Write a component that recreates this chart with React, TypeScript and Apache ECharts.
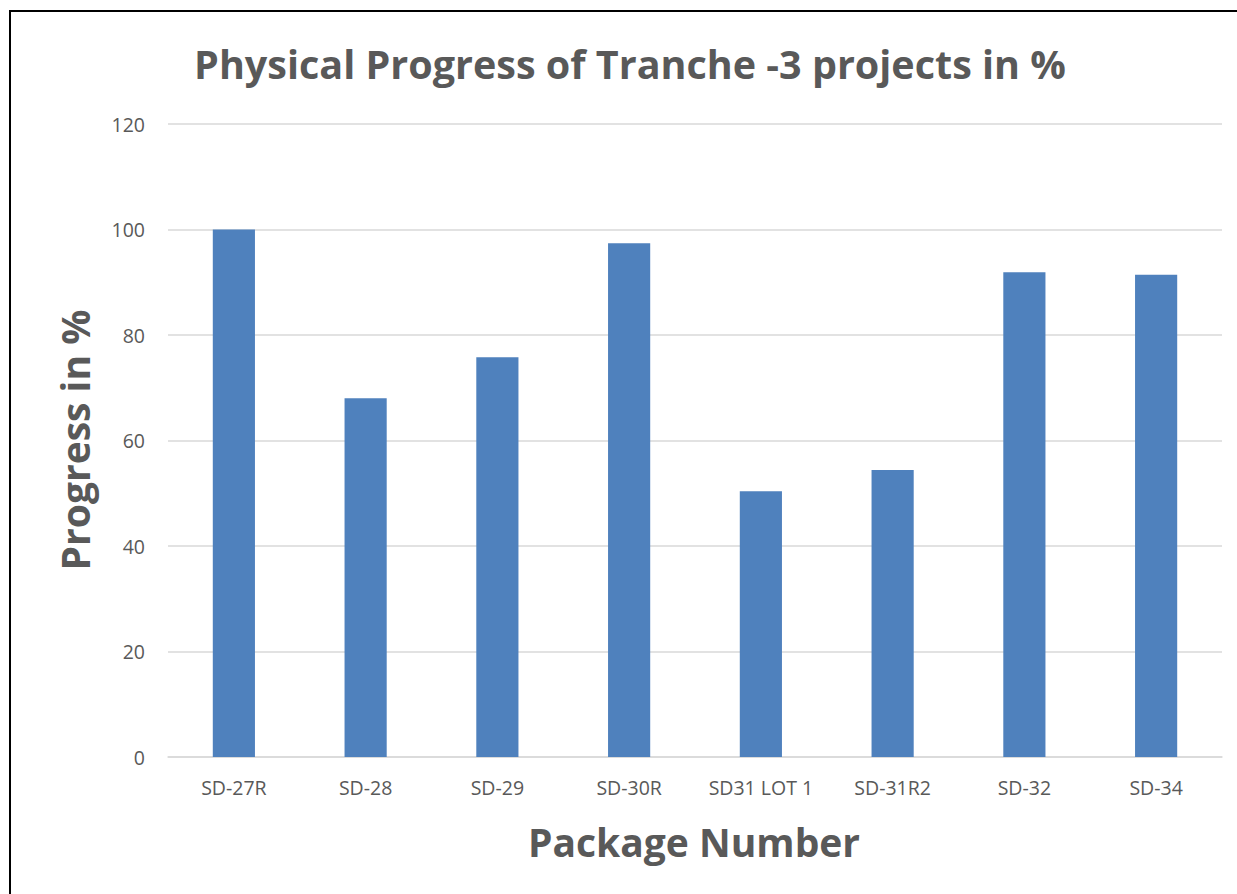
import React, { useEffect, useRef } from "react";
import * as echarts from "echarts";

const categories = ["SD-27R", "SD-28", "SD-29", "SD-30R", "SD31 LOT 1", "SD-31R2", "SD-32", "SD-34"];
const progress = [100, 68, 75.8, 97.4, 50.4, 54.4, 91.9, 91.4];
const yTicks = { min: 0, max: 120, interval: 20 };
const titleText = "Physical Progress of Tranche -3 projects in %";
const xName = "Package Number";
const yName = "Progress in %";

const FONT = "'Open Sans', 'Noto Sans', sans-serif";
const GREY = "#595959";

export default function App() {
  const ref = useRef<HTMLDivElement>(null);
  useEffect(() => {
    if (!ref.current) return;
    const chart = echarts.init(ref.current, undefined, { renderer: "svg" });
    chart.setOption({
      animation: false,
      backgroundColor: "#ffffff",
      grid: { left: 168, right: 15, top: 124, bottom: 137, containLabel: false },
      xAxis: {
        type: "category",
        data: categories,
        axisLine: { lineStyle: { color: "#d9d9d9", width: 1.5 } },
        axisTick: { show: false },
        axisLabel: { color: GREY, fontSize: 19.5, fontFamily: FONT, margin: 20, interval: 0 },
      },
      yAxis: {
        type: "value",
        min: yTicks.min,
        max: yTicks.max,
        interval: yTicks.interval,
        axisLine: { show: false },
        axisTick: { show: false },
        splitLine: { lineStyle: { color: "#d9d9d9", width: 1.5 } },
        axisLabel: { color: GREY, fontSize: 19.5, fontFamily: FONT, margin: 23 },
      },
      series: [
        {
          type: "bar",
          data: progress,
          barWidth: "32%",
          itemStyle: { color: "#4f81bd" },
        },
      ],
      graphic: [
        { type: "line", shape: { x1: 10, y1: 11, x2: 10, y2: 894 }, style: { stroke: "#000", lineWidth: 2 } },
        { type: "line", shape: { x1: 9, y1: 11, x2: 1237, y2: 11 }, style: { stroke: "#000", lineWidth: 2 } },
        {
          type: "text",
          x: 630,
          y: 64,
          style: {
            text: titleText,
            fill: GREY,
            font: `bold 39.5px ${FONT}`,
            textAlign: "center",
            textVerticalAlign: "middle",
          },
        },
        {
          type: "text",
          x: 694,
          y: 841,
          style: {
            text: xName,
            fill: GREY,
            font: `bold 39px ${FONT}`,
            textAlign: "center",
            textVerticalAlign: "middle",
          },
        },
        {
          type: "text",
          x: 74,
          y: 440,
          rotation: Math.PI / 2,
          style: {
            text: yName,
            fill: GREY,
            font: `bold 39px ${FONT}`,
            textAlign: "center",
            textVerticalAlign: "middle",
          },
        },
      ],
    });
    return () => chart.dispose();
  }, []);
  return (
    <div
      ref={ref}
      style={{ position: "absolute", left: 0, top: 0, width: 1237, height: 894 }}
    />
  );
}
